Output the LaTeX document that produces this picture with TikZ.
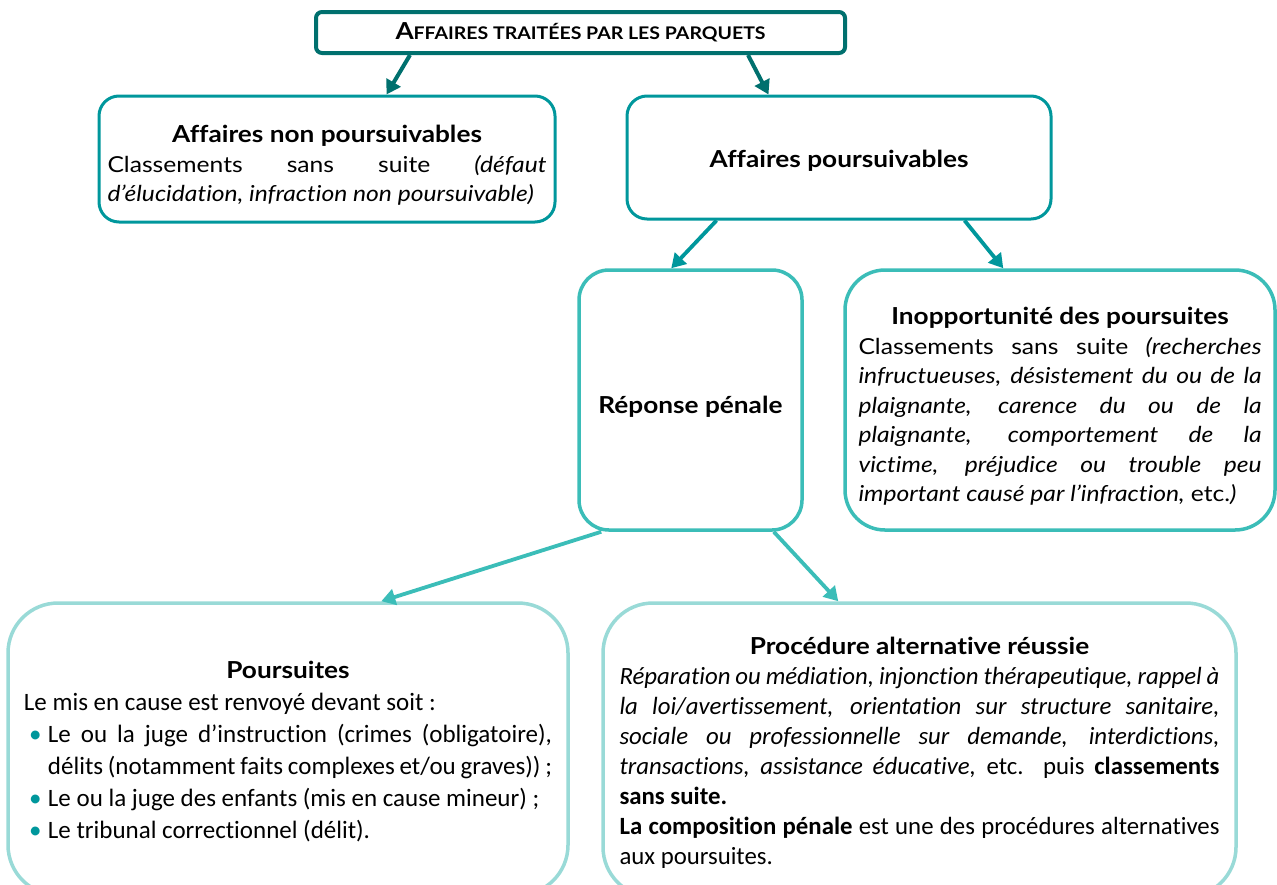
\documentclass[tikz,border=0pt]{standalone}
\usepackage{fontspec}
\setmainfont{Lato}[FakeStretch=1.12, Ligatures=NoCommon]
\newfontfamily\calibrifont{Carlito}[Ligatures=NoCommon]
\definecolor{MyDarkTeal}{HTML}{00706E}
\definecolor{MyTeal}{HTML}{00979C}
\definecolor{MyLightTeal}{HTML}{3BBDB8}
\definecolor{MyPaleTeal}{HTML}{99DAD7}
\usetikzlibrary{arrows.meta}
\tikzset{
	box/.style={draw, fill=white, rounded corners=#1, inner sep=0pt},
	box/.default=10pt,
	arrowline/.style={-{Triangle[length=7pt, width=8pt]}, line width=1.9pt}
}
\newcommand{\boxtitle}[2][15pt]{{\centering\rmfamily\fontsize{11.7}{14}\selectfont\bfseries\rule{0pt}{#1}#2\par}}
\newcommand{\pitem}{\par\hangindent=12pt\hangafter=1\noindent\makebox[12pt][l]{\hspace{2.5pt}\textcolor{MyTeal}{\textbullet}}}

\begin{document}
\begin{tikzpicture}[x=0.5pt, y=-0.5pt]
		\useasboundingbox (0,0) rectangle (1277,884);
		\clip (0,0) rectangle (1277,884);
		
		% first level
		\node[box=3pt, draw=MyDarkTeal, line width=2pt, minimum width=264.5pt, minimum height=20.5pt, font=\fontsize{11.7}{13}\selectfont] (parquets) at (580.5,32.5) {\textbf{A\fontsize{8.7}{10}\selectfont FFAIRES TRAITÉES PAR LES PARQUETS}};
		
		% second level
		\node[box, draw=MyTeal, line width=1.5pt, minimum width=228pt, minimum height=63pt, text width=219.5pt, align=justify, font=\fontsize{11}{14.75}\selectfont] (nonpours) at (327,159) {%
			\boxtitle{Affaires non poursuivables}
			Classements sans suite \textit{(défaut\linebreak d’élucidation, infraction non poursuivable)}};
		\node[box, draw=MyTeal, line width=1.5pt, minimum width=212pt, minimum height=61.5pt, text height=12.5pt, text depth=2.4pt, font=\fontsize{11.7}{14}\selectfont\bfseries] (pours) at (839,157.5) {Affaires poursuivables};
		
		% third level
		\node[box=15pt, draw=MyLightTeal, line width=1.75pt, minimum width=111.5pt, minimum height=130pt, text height=16pt, text depth=3pt, font=\fontsize{11.7}{14}\selectfont\bfseries] (reponse) at (690.5,400) {Réponse pénale};
		\node[box=20pt, draw=MyLightTeal, line width=1.75pt, minimum width=215pt, minimum height=130pt, text width=201.5pt, align=justify, font=\fontsize{11}{14.75}\selectfont] (inopp) at (1060,400) {%
			\boxtitle{Inopportunité des poursuites}
			Classements sans suite \textit{(recherches\linebreak
			infructueuses, désistement du ou de la\linebreak
			plaignante, carence du ou de la\linebreak
			plaignante, comportement de la\linebreak
			victime, préjudice ou trouble peu\linebreak
			important causé par l’infraction,} etc.\textit{)}};
		
		% fourth level
		\node[box=25pt, draw=MyPaleTeal, line width=1.75pt, minimum width=280pt, minimum height=146pt, text width=264pt, align=justify, font=\calibrifont\fontsize{12.5}{16}\selectfont] (poursuites) at (288,749) {%
			\boxtitle[11pt]{Poursuites}
			\noindent Le mis en cause est renvoyé devant soit :
			\pitem Le ou la juge d’instruction (crimes (obligatoire),\linebreak délits (notamment faits complexes et/ou graves)) ;
			\pitem Le ou la juge des enfants (mis en cause mineur) ;
			\pitem Le tribunal correctionnel (délit).\par};
		\node[box=25pt, draw=MyPaleTeal, line width=1.75pt, minimum width=316.5pt, minimum height=147pt, text width=300pt, align=justify, font=\calibrifont\fontsize{12.4}{15}\selectfont] (alternative) at (919.5,750) {%
			\boxtitle[11pt]{Procédure alternative réussie}
			\textit{Réparation ou médiation, injonction thérapeutique, rappel à\linebreak
			la loi/avertissement, orientation sur structure sanitaire,\linebreak
			sociale ou professionnelle sur demande, interdictions,\linebreak
			transactions, assistance éducative,} etc. puis \textbf{classements\linebreak
			sans suite.}\par
			\textbf{La composition pénale} est une des procédures alternatives\linebreak
			aux poursuites.\par};
		
		% arrows
		\draw[arrowline, MyDarkTeal, line width=2pt] ([xshift=48pt]parquets.south west) -- ([xshift=144.5pt]nonpours.north west);
		\draw[arrowline, MyDarkTeal, line width=2pt] ([xshift=-49.5pt]parquets.south east) -- ([xshift=71.5pt]pours.north west);
		
		\draw[arrowline, MyTeal] ([xshift=45.5pt]pours.south west) -- ([xshift=47pt]reponse.north west);
		\draw[arrowline, MyTeal] ([xshift=-44pt]pours.south east) -- ([xshift=80pt]inopp.north west);
		
		\draw[arrowline, MyLightTeal] ([xshift=12pt]reponse.south west) -- ([xshift=187.5pt]poursuites.north west);
		\draw[arrowline, MyLightTeal] ([xshift=-15pt]reponse.south east) -- ([xshift=118.5pt]alternative.north west);
	\end{tikzpicture}
\end{document}
